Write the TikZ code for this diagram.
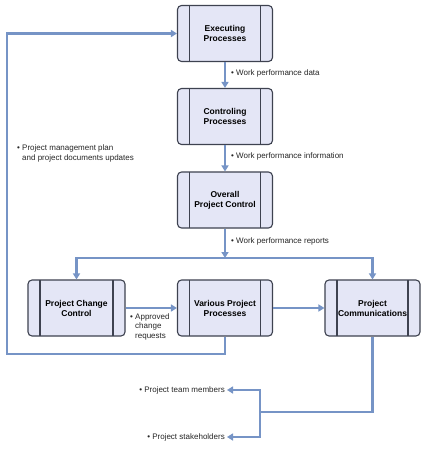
\documentclass[tikz,border=0pt]{standalone}
\usepackage{fontspec}
\setmainfont{Liberation Sans}
\usetikzlibrary{arrows.meta}
\definecolor{flowblue}{RGB}{118,148,198}
\definecolor{boxfill}{RGB}{228,230,246}
\definecolor{boxline}{RGB}{62,66,80}
\newcommand{\bul}{\textbullet\ }
\newcommand{\hang}{\hphantom{\textbullet\ }}
\tikzset{
  procbox/.style={draw=boxline, line width=1.1pt, fill=boxfill, rounded corners=4pt,
    minimum width=95pt, minimum height=56pt, align=center, inner sep=0pt,
    font=\fontsize{8.5}{10}\selectfont\bfseries,
    path picture={
      \draw[boxline, line width=1.1pt] ([xshift=12pt]path picture bounding box.north west) -- ([xshift=12pt]path picture bounding box.south west);
      \draw[boxline, line width=1.1pt] ([xshift=-12pt]path picture bounding box.north east) -- ([xshift=-12pt]path picture bounding box.south east);}},
  flow/.style={draw=flowblue, line width=2.3pt, -{Triangle[length=6pt,width=7pt]}},
  note/.style={font=\fontsize{8}{9.5}\selectfont, align=left, inner sep=0pt, text=black!85}
}
\begin{document}
\begin{tikzpicture}[x=1pt, y=-1pt]
  \useasboundingbox[fill=white] (0,0) rectangle (426,450);
  % process boxes
  \node[procbox] (exe) at (225,33.5) {Executing\\Processes};
  \node[procbox] (ctl) at (225,116.5) {Controling\\Processes};
  \node[procbox] (ovr) at (225,200) {Overall\\Project Control};
  \node[procbox, minimum width=97pt] (chg) at (76.5,308) {Project Change\\Control};
  \node[procbox] (var) at (225,308) {Various Project\\Processes};
  \node[procbox] (com) at (372.5,308) {Project\\Communications};
  % helper points
  \coordinate (split) at (225,258);
  \coordinate (loop) at (7,354);
  \coordinate (fork) at (260,412);
  % labels
  \node[note, anchor=west] (lbdata) at (231,73) {\bul Work performance data};
  \node[note, anchor=west] (lbinfo) at (231,156) {\bul Work performance information};
  \node[note, anchor=west] (lbrep) at (231,241) {\bul Work performance reports};
  \node[note, anchor=north west] (lbplan) at (17,145) {\bul Project management plan\\ \hang and project documents updates};
  \node[note, anchor=north west] (lbappr) at (130,313) {\bul Approved\\ \hang change\\ \hang requests};
  \node[note, anchor=east] (team) at (225,390) {\bul Project team members};
  \node[note, anchor=east] (stk) at (225,437) {\bul Project stakeholders};
  % connectors
  \draw[flow] (exe) -- (ctl);
  \draw[flow] (ctl) -- (ovr);
  \draw[flow] (ovr) -- (split);
  \draw[flow] (split) -| (chg);
  \draw[flow] (split) -| (com);
  \draw[flow] (chg) -- (var);
  \draw[flow] (var) -- (com);
  \draw[flow] (var.south) |- (loop) |- (exe.west);
  \draw[flow, -] (com.south) |- (fork);
  \draw[flow] (fork) |- ([xshift=2pt]team.east);
  \draw[flow] (fork) |- ([xshift=2pt]stk.east);
\end{tikzpicture}
\end{document}
